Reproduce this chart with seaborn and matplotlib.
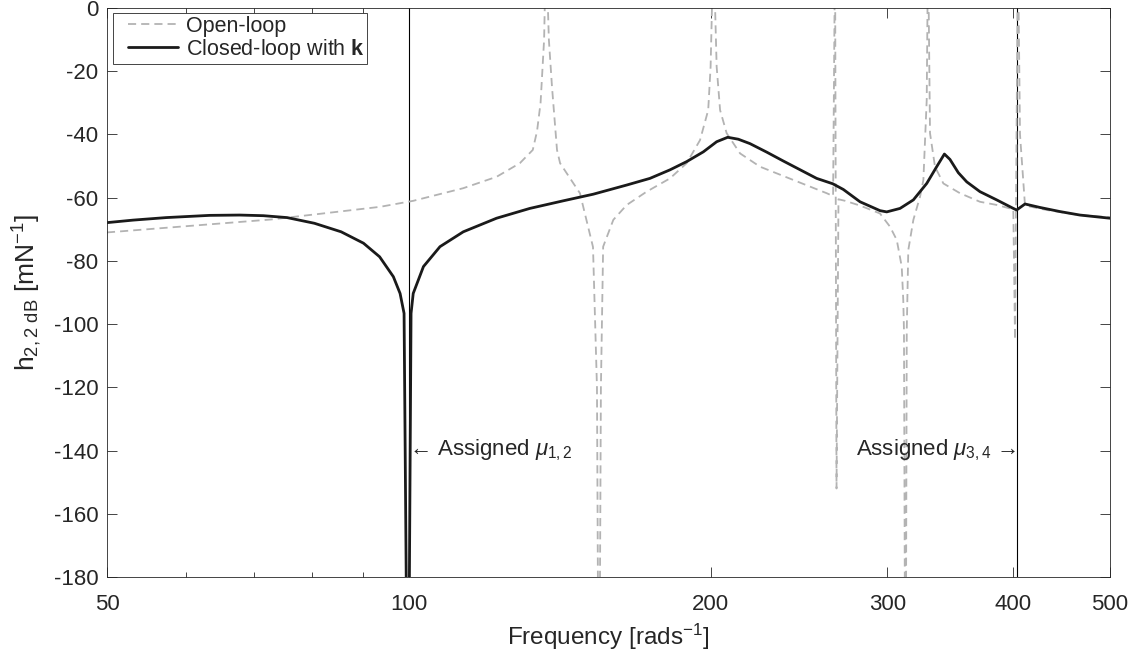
# Libraries
# ===================================================
import numpy as np
import pandas as pd
import seaborn as sns
import matplotlib.pyplot as plt
from matplotlib.ticker import NullFormatter
from matplotlib.legend_handler import HandlerLine2D

# Data
# ===================================================
# Open-loop receptance (dashed grey)
open_freq = [50.0, 72.9, 93.6, 101.0, 113.3, 122.3, 129.0, 132.9, 134.2, 135.3,
             136.4, 137.0, 137.9, 138.9, 140.5, 141.5, 148.1, 152.6, 154.0, 154.7,
             155.4, 156.2, 159.9, 164.9, 172.6, 182.1, 189.2, 195.1, 198.8, 199.9,
             201.2, 202.7, 204.3, 207.4, 213.9, 223.9, 241.7, 261.0, 264.8, 266.0,
             266.9, 268.1, 272.2, 281.7, 294.9, 301.8, 306.5, 310.0, 311.1, 311.6,
             312.7, 313.6, 314.7, 318.4, 323.3, 325.8, 328.3, 329.3, 330.8, 334.6,
             341.1, 354.4, 371.0, 385.5, 400.5, 402.1, 404.8, 406.7, 411.4, 432.4,
             466.7, 500.0]
open_db = [-71.0, -66.9, -62.9, -61.0, -57.0, -53.4, -49.1, -44.9, -39.0, -30.0,
           -10.0, 20.0, -10.0, -25.0, -44.9, -49.1, -58.6, -75.6, -120.0, -250.0,
           -120.0, -75.5, -67.0, -62.3, -58.1, -53.9, -49.1, -41.8, -32.3, -18.6,
           20.0, -18.6, -32.3, -39.6, -46.0, -50.2, -54.4, -58.6, -59.5, 20.0,
           -152.0, -60.5, -61.0, -62.5, -65.0, -69.2, -73.4, -81.8, -92.4, -102.0,
           -250.0, -102.0, -76.6, -67.0, -59.7, -54.4, -29.1, 20.0, -39.6, -50.2,
           -55.5, -58.6, -61.3, -62.3, -63.7, -105.0, 20.0, -40.0, -62.5, -63.9,
           -65.5, -66.2]

# Closed-loop receptance with k (solid black)
closed_freq = [50.0, 53.1, 57.3, 63.3, 67.8, 71.6, 75.6, 80.5, 85.6, 90.1,
               93.5, 96.5, 98.0, 98.9, 99.8, 100.5, 101.0, 103.4, 107.4, 113.3,
               122.3, 132.0, 142.5, 152.7, 164.9, 173.9, 182.1, 189.2, 196.6, 202.7,
               207.9, 213.0, 218.8, 227.4, 236.2, 255.0, 264.6, 271.1, 281.7, 294.9,
               299.5, 308.8, 318.4, 328.3, 335.9, 341.9, 346.3, 353.0, 359.9, 371.0,
               385.5, 400.5, 403.6, 411.4, 425.8, 445.8, 466.7, 500.0]
closed_db = [-67.9, -67.1, -66.3, -65.6, -65.5, -65.7, -66.3, -68.1, -70.8, -74.4,
             -78.7, -85.0, -90.3, -96.6, -250.0, -96.6, -90.3, -81.8, -75.5, -70.8,
             -66.5, -63.4, -61.0, -58.9, -56.0, -53.9, -51.2, -48.6, -45.5, -42.3,
             -40.9, -41.5, -42.9, -45.6, -48.4, -53.9, -55.6, -57.4, -61.3, -64.1,
             -64.5, -63.4, -60.7, -55.5, -50.2, -46.2, -47.9, -52.1, -55.0, -58.1,
             -60.7, -63.4, -63.9, -62.0, -63.1, -64.4, -65.5, -66.5]

# Assigned eigenvalue frequencies
assigned_freq = [100.0, 403.7]
assigned_text = [r'← Assigned $\mathit{\mu}_{1,2}$',
                 r'Assigned $\mathit{\mu}_{3,4}$ →']

# Ticks
xticks = [50, 100, 200, 300, 400, 500]
xminor = [60, 70, 80, 90]
yticks = list(range(-180, 1, 20))

df_open = pd.DataFrame({'freq': open_freq, 'db': open_db})
df_closed = pd.DataFrame({'freq': closed_freq, 'db': closed_db})


# Legend line that starts a little inside the box (MATLAB look)
class InsetLine(HandlerLine2D):
    def get_xdata(self, legend, xdescent, ydescent, width, height, fontsize):
        xdata = np.array([-xdescent + 0.2 * width, -xdescent + width])
        return xdata, np.array([-xdescent + 0.6 * width])


# Data Visualization
# ===================================================
sns.set_style('ticks')
dark = (0.15, 0.15, 0.15)
plt.rcParams.update({
    'font.family': ['Liberation Sans', 'DejaVu Sans'],
    'font.size': 16,
    'mathtext.fontset': 'custom',
    'mathtext.rm': 'Liberation Sans',
    'mathtext.it': 'Liberation Sans:italic',
    'mathtext.bf': 'Liberation Sans:bold',
    'mathtext.default': 'regular',
    'axes.unicode_minus': False,
    'text.color': dark,
    'axes.labelcolor': dark,
    'xtick.color': dark,
    'ytick.color': dark,
})

fig = plt.figure(figsize=(11.45, 6.57), dpi=100)
ax = fig.add_axes([0.0934, 0.1218, 0.876, 0.866])

# Open-loop (dashed grey)
sns.lineplot(data=df_open, x='freq', y='db', sort=False, estimator=None,
             color='#b3b3b3', linewidth=1.3, linestyle=(0, (4.5, 2.8)),
             label='Open-loop', ax=ax)

# Closed-loop (solid black)
sns.lineplot(data=df_closed, x='freq', y='db', sort=False, estimator=None,
             color='#1a1a1a', linewidth=2.0,
             label=r'Closed-loop with $\mathbf{k}$', ax=ax)

# Assigned frequencies
for f in assigned_freq:
    ax.axvline(f, color='black', linewidth=0.8, zorder=1)
ax.text(assigned_freq[0], -140, assigned_text[0], ha='left', va='center', fontsize=16)
ax.text(assigned_freq[1], -140, assigned_text[1], ha='right', va='center', fontsize=16)

# Axes
ax.set_xscale('log')
ax.set_xlim(50, 500)
ax.set_ylim(-180, 0)
ax.set_xticks(xticks, labels=[str(t) for t in xticks])
ax.set_xticks(xminor, minor=True)
ax.xaxis.set_minor_formatter(NullFormatter())
ax.set_yticks(yticks, labels=[str(t) for t in yticks])
ax.tick_params(which='both', direction='in', top=True, right=True, width=0.6, labelsize=16)
ax.tick_params(axis='x', which='major', pad=12)
ax.tick_params(axis='y', which='major', pad=6)
ax.tick_params(which='major', length=7)
ax.tick_params(which='minor', length=3.6)
for s in ax.spines.values():
    s.set_color(dark)
    s.set_linewidth(0.6)

ax.set_xlabel(r'Frequency [rads$^{-1}$]', fontsize=17.5, labelpad=5)
ax.set_ylabel(r'h$_{2,2\ dB}$ [mN$^{-1}$]', fontsize=19, labelpad=7)

# Legend
handles, labels = ax.get_legend_handles_labels()
leg = ax.legend(handles, labels, loc='upper left', bbox_to_anchor=(0.006, 0.991),
                borderaxespad=0, fontsize=15.5, frameon=True, fancybox=False,
                framealpha=1, edgecolor=dark, handlelength=2.9, handletextpad=0.35,
                borderpad=0.12, labelspacing=0.0,
                handler_map={h: InsetLine() for h in handles})
leg.get_frame().set_linewidth(0.6)

plt.savefig('out.png', dpi=100)
